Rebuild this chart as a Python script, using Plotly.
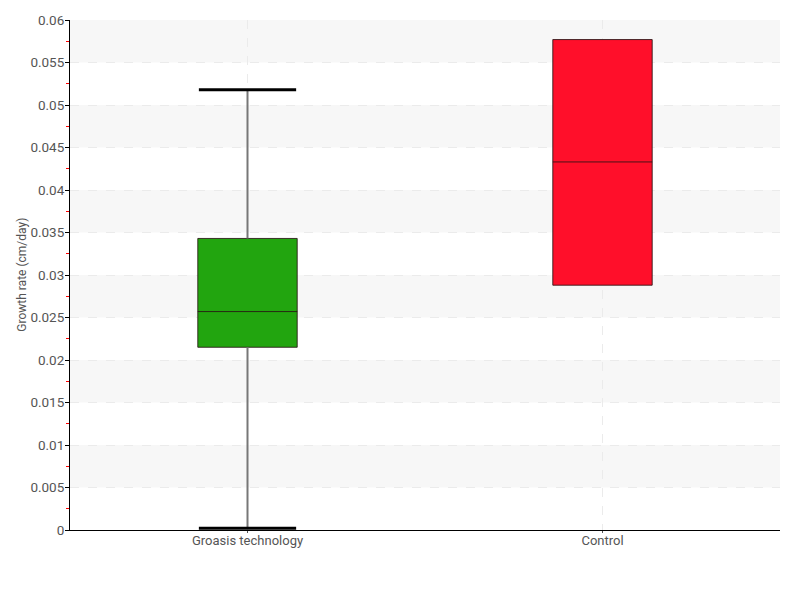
import plotly.graph_objects as go

categories = ["Groasis technology", "Control"]
q1 = [0.0215, 0.0288]
median = [0.0257, 0.0433]
q3 = [0.0343, 0.0577]
whisker_low = [0.0002, None]
whisker_high = [0.0518, None]
colors = ["#22a50f", "#ff0f2a"]
y_ticks = [round(i * 0.005, 3) for i in range(13)]
bands = [(0.005, 0.01), (0.015, 0.02), (0.025, 0.03), (0.035, 0.04), (0.045, 0.05), (0.055, 0.06)]
y_title = "Growth rate (cm/day)"

FONT = "Roboto, Lato, sans-serif"

fig = go.Figure()
for i, cat in enumerate(categories):
    fig.add_trace(go.Box(
        x=[cat], q1=[q1[i]], median=[median[i]], q3=[q3[i]],
        lowerfence=[q1[i]], upperfence=[q3[i]],
        fillcolor=colors[i], line=dict(color="rgba(40,20,20,0.85)", width=1),
        width=0.28, whiskerwidth=0, showlegend=False, hoverinfo="skip",
    ))

shapes = []
for y0, y1 in bands:
    shapes.append(dict(type="rect", xref="paper", yref="y", x0=0, x1=1, y0=y0, y1=y1,
                       fillcolor="#f7f7f7", line=dict(width=0), layer="below"))
for i in range(len(categories)):
    if whisker_low[i] is not None:
        shapes.append(dict(type="line", xref="x", yref="y", x0=i, x1=i, y0=whisker_low[i], y1=q1[i],
                           line=dict(color="#777777", width=2), layer="above"))
        shapes.append(dict(type="line", xref="x", yref="y", x0=i - 0.137, x1=i + 0.137,
                           y0=whisker_low[i], y1=whisker_low[i], line=dict(color="black", width=3)))
    if whisker_high[i] is not None:
        shapes.append(dict(type="line", xref="x", yref="y", x0=i, x1=i, y0=q3[i], y1=whisker_high[i],
                           line=dict(color="#777777", width=2)))
        shapes.append(dict(type="line", xref="x", yref="y", x0=i - 0.137, x1=i + 0.137,
                           y0=whisker_high[i], y1=whisker_high[i], line=dict(color="black", width=3)))

fig.update_layout(
    width=800, height=600,
    margin=dict(l=62, r=28, t=12, b=78, autoexpand=False),
    plot_bgcolor="white", paper_bgcolor="white",
    font=dict(family=FONT, color="#555555", size=13),
    shapes=shapes,
    annotations=[dict(text=y_title, xref="paper", yref="paper", x=-0.068, y=0.5,
                      xanchor="center", yanchor="middle", textangle=-90, showarrow=False,
                      font=dict(family=FONT, size=12, color="#555555"))],
    xaxis=dict(
        type="category", range=[-0.5, 1.5], automargin=False,
        showline=True, linecolor="black", linewidth=1,
        showgrid=True, gridcolor="#ebebeb", griddash="dash", gridwidth=1,
        ticks="outside", ticklen=2, tickcolor="#555555",
        ticklabelstandoff=-4,
        tickfont=dict(family=FONT, size=13, color="#555555"),
    ),
    yaxis=dict(
        range=[0, 0.06], tickvals=y_ticks, ticktext=[f"{v:g}" for v in y_ticks],
        automargin=False,
        showline=True, linecolor="black", linewidth=1,
        showgrid=True, gridcolor="#ebebeb", griddash="dash", gridwidth=1,
        ticks="outside", ticklen=4, tickcolor="black",
        ticklabelstandoff=-2,
        tickfont=dict(family=FONT, size=13.5, color="#555555"),
        zeroline=False,
        minor=dict(dtick=0.0025, tick0=0, ticks="outside", ticklen=3, tickcolor="red", showgrid=False),
    ),
)

fig.write_html("out.html")
